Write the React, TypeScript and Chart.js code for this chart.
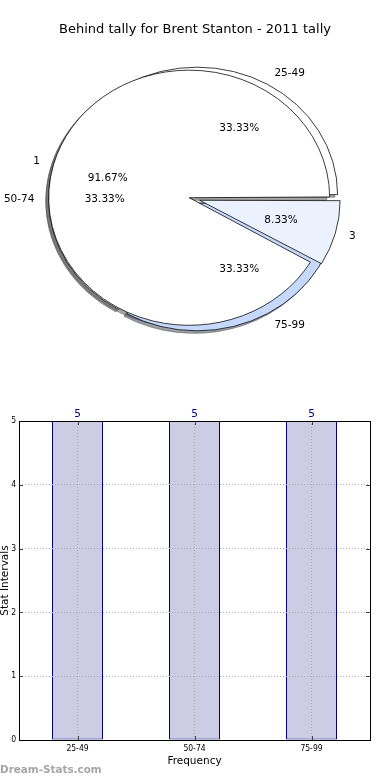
import React, { useEffect, useRef } from 'react';
import { Chart, registerables } from 'chart.js';

Chart.register(...registerables);

const chartTitle = 'Behind tally for Brent Stanton - 2011 tally';
const rangeLabels = ['25-49', '50-74', '75-99'];
const rangeCounts = [5, 5, 5];
const tallyLabels = ['1', '3'];
const tallyCounts = [11, 1];
const barCategories = ['25-49', '50-74', '75-99'];
const barValues = [5, 5, 5];
const yAxisMin = 0;
const yAxisMax = 5;
const xAxisTitle = 'Frequency';
const yAxisTitle = 'Stat Intervals';
const watermark = 'Dream-Stats.com';

const rangeColors = ['#ffffff', '#ffffff', '#c6d9fd'];
const tallyColors = ['#ffffff', '#ecf2fd'];

const SANS = '"DejaVu Sans", Verdana, sans-serif';
const NARROW = '"Liberation Sans Narrow", "DejaVu Sans Condensed", "Arial Narrow", sans-serif';

const PIE_R = 140.5;
const PIE_K = 0.908;
const EXPLODE = 5.4;
const SHADOW = 0.02 * PIE_R;

function hexToRgb(h: string) {
  const n = parseInt(h.slice(1), 16);
  return [(n >> 16) & 255, (n >> 8) & 255, n & 255];
}
function shadowColor(h: string) {
  const [r, g, b] = hexToRgb(h);
  return `rgba(${Math.round(r * 0.3)},${Math.round(g * 0.3)},${Math.round(b * 0.3)},0.5)`;
}

const pieSkin = {
  id: 'pieSkin',
  afterDatasetsUpdate(chart: any) {
    chart.data.datasets.forEach((_ds: any, i: number) => {
      chart.getDatasetMeta(i).data.forEach((a: any) => {
        const fix = 1 - Math.sin(Math.min(Math.PI, a.circumference));
        a.innerRadius = 0;
        a.outerRadius = PIE_R - EXPLODE * fix;
      });
    });
  },
  beforeDatasetsDraw(chart: any) {
    const ctx = chart.ctx;
    const a0 = chart.getDatasetMeta(0).data[0];
    const cx = a0.x;
    const cy = a0.y;
    ctx.save();
    ctx.translate(cx, cy);
    ctx.scale(1, -PIE_K);
    ctx.translate(-cx, -cy);
    chart.data.datasets.forEach((ds: any, i: number) => {
      chart.getDatasetMeta(i).data.forEach((a: any, j: number) => {
        const h = (a.startAngle + a.endAngle) / 2;
        const ox = a.x + Math.cos(h) * EXPLODE - SHADOW;
        const oy = a.y + Math.sin(h) * EXPLODE - SHADOW;
        ctx.beginPath();
        ctx.moveTo(ox, oy);
        ctx.arc(ox, oy, PIE_R, a.startAngle, a.endAngle);
        ctx.closePath();
        const c = shadowColor(ds.backgroundColor[j]);
        ctx.fillStyle = c;
        ctx.fill();
        ctx.strokeStyle = c;
        ctx.lineWidth = 1;
        ctx.stroke();
      });
    });
  },
  afterDatasetsDraw(chart: any) {
    chart.ctx.restore();
  },
  afterDraw(chart: any) {
    const ctx = chart.ctx;
    ctx.save();
    ctx.fillStyle = '#000';
    ctx.textBaseline = 'middle';
    ctx.textAlign = 'center';
    ctx.font = `13px ${SANS}`;
    ctx.fillText(chartTitle, 195, 30);
    ctx.font = `10.5px ${SANS}`;
    chart.data.datasets.forEach((ds: any, i: number) => {
      const total = ds.data.reduce((s: number, v: number) => s + v, 0);
      chart.getDatasetMeta(i).data.forEach((a: any, j: number) => {
        const h = (a.startAngle + a.endAngle) / 2;
        const c = Math.cos(h);
        const s = Math.sin(h);
        const dl = EXPLODE + 1.1 * PIE_R;
        ctx.textAlign = c > 0 ? 'left' : 'right';
        ctx.fillText(ds.sliceLabels[j], a.x + c * dl, a.y - s * dl * PIE_K);
        const dp = EXPLODE + 0.6 * PIE_R;
        ctx.textAlign = 'center';
        ctx.fillText(((ds.data[j] / total) * 100).toFixed(2) + '%', a.x + c * dp, a.y - s * dp * PIE_K);
      });
    });
    ctx.restore();
  },
};

const barSkin = {
  id: 'barSkin',
  afterDraw(chart: any) {
    const { ctx, chartArea: ca, scales } = chart;
    ctx.save();
    const line = (x1: number, y1: number, x2: number, y2: number) => {
      ctx.beginPath();
      ctx.moveTo(x1, y1);
      ctx.lineTo(x2, y2);
      ctx.stroke();
    };
    ctx.strokeStyle = '#444';
    ctx.lineWidth = 1;
    scales.y.ticks.forEach((t: any) => {
      const y = Math.round(scales.y.getPixelForValue(t.value)) + 0.5;
      line(ca.left, y, ca.left + 4, y);
      line(ca.right - 4, y, ca.right, y);
    });
    barCategories.forEach((_c, i) => {
      const x = Math.round(scales.x.getPixelForValue(i)) + 0.5;
      line(x, ca.bottom, x, ca.bottom - 4);
      line(x, ca.top, x, ca.top + 4);
    });
    ctx.strokeStyle = '#000';
    ctx.strokeRect(Math.round(ca.left) + 0.5, Math.round(ca.top) + 0.5, Math.round(ca.right - ca.left), Math.round(ca.bottom - ca.top));

    const meta = chart.getDatasetMeta(0);
    ctx.fillStyle = '#000080';
    ctx.font = `10.5px ${SANS}`;
    ctx.textAlign = 'center';
    ctx.textBaseline = 'alphabetic';
    meta.data.forEach((b: any, i: number) => ctx.fillText(String(barValues[i]), b.x, b.y - 4));

    ctx.fillStyle = '#000';
    ctx.fillText(xAxisTitle, (ca.left + ca.right) / 2, 374);
    ctx.save();
    ctx.translate(7.5, (ca.top + ca.bottom) / 2);
    ctx.rotate(-Math.PI / 2);
    ctx.fillText(yAxisTitle, 0, 0);
    ctx.restore();

    ctx.fillStyle = '#a6a6a6';
    ctx.font = `bold 10.4px ${SANS}`;
    ctx.textAlign = 'left';
    ctx.fillText(watermark, 0, 383);
    ctx.restore();
  },
};

export default function App() {
  const pieRef = useRef<HTMLCanvasElement>(null);
  const barRef = useRef<HTMLCanvasElement>(null);

  useEffect(() => {
    const pie = new Chart(pieRef.current as HTMLCanvasElement, {
      type: 'pie',
      data: {
        labels: rangeLabels,
        datasets: [
          {
            label: 'tally',
            data: tallyCounts,
            sliceLabels: tallyLabels,
            backgroundColor: tallyColors,
            borderColor: '#000',
            borderWidth: 0.8,
            offset: 4 * EXPLODE,
            order: 0,
            clip: false,
          } as any,
          {
            label: 'ranges',
            data: rangeCounts,
            sliceLabels: rangeLabels,
            backgroundColor: rangeColors,
            borderColor: '#000',
            borderWidth: 0.8,
            offset: 4 * EXPLODE,
            order: 1,
            clip: false,
          } as any,
        ],
      },
      options: {
        responsive: false,
        animation: false,
        events: [],
        rotation: 90,
        radius: PIE_R,
        layout: { padding: { left: 0, right: 1.2, top: 8, bottom: 0 } },
        plugins: { legend: { display: false }, tooltip: { enabled: false } },
      } as any,
      plugins: [pieSkin],
    });

    const bar = new Chart(barRef.current as HTMLCanvasElement, {
      type: 'bar',
      data: {
        labels: barCategories,
        datasets: [
          {
            label: 'Stat Intervals',
            data: barValues,
            backgroundColor: 'rgb(204,204,229)',
            borderColor: '#000080',
            borderWidth: 1,
            borderSkipped: false,
            barPercentage: 51 / 117,
            categoryPercentage: 1,
          },
        ],
      },
      options: {
        responsive: false,
        animation: false,
        events: [],
        layout: { padding: { left: 0, right: 20, top: 31, bottom: 0 } },
        plugins: { legend: { display: false }, tooltip: { enabled: false } },
        scales: {
          x: {
            type: 'category',
            offset: true,
            grid: { display: true, offset: false, color: '#b0b0b0', lineWidth: 1, drawTicks: false, z: 1 },
            border: { display: false, dash: [1, 2] },
            ticks: { font: { family: NARROW, size: 8.5 }, color: '#000', padding: 4, maxRotation: 0, autoSkip: false },
            afterFit: (s: any) => { s.height = 40; },
          },
          y: {
            min: yAxisMin,
            max: yAxisMax,
            grid: { color: '#b0b0b0', lineWidth: 1, drawTicks: false, z: 1 },
            border: { display: false, dash: [1, 2] },
            ticks: { stepSize: 1, font: { family: NARROW, size: 8.5 }, color: '#000', padding: 3 },
            afterFit: (s: any) => { s.width = 19; },
          },
        },
      } as any,
      plugins: [barSkin],
    });

    return () => {
      pie.destroy();
      bar.destroy();
    };
  }, []);

  return (
    <div style={{ position: 'absolute', left: 0, top: 0, width: 390, height: 780, background: '#fff', overflow: 'hidden' }}>
      <canvas ref={pieRef} width={390} height={390} style={{ position: 'absolute', left: 0, top: 0 }} />
      <canvas ref={barRef} width={390} height={390} style={{ position: 'absolute', left: 0, top: 390 }} />
    </div>
  );
}
